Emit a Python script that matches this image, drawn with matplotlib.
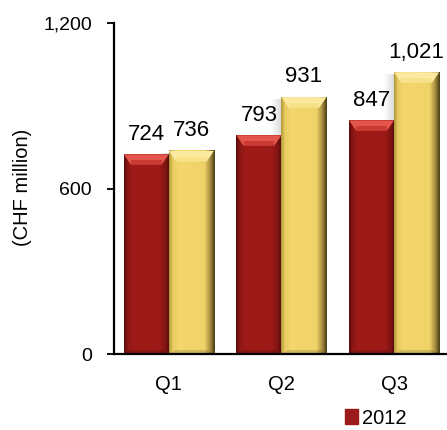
import numpy as np
import matplotlib
matplotlib.use('Agg')
import matplotlib.pyplot as plt
from matplotlib.colors import LinearSegmentedColormap
from matplotlib.patches import Patch

quarters = ['Q1', 'Q2', 'Q3']
years = ['2012', '2013']
values_2012 = [724, 793, 847]
values_2013 = [736, 931, 1021]

plt.rcParams['font.family'] = ['Liberation Sans', 'DejaVu Sans']

# side-to-side shading for the bevelled bars
red_cmap = LinearSegmentedColormap.from_list('red', [
	(0.0, '#5e0c0b'), (0.08, '#8c1714'), (0.2, '#a01b18'),
	(0.8, '#9c1a17'), (0.93, '#7a1411'), (1.0, '#4a0908')])
yellow_cmap = LinearSegmentedColormap.from_list('yellow', [
	(0.0, '#b59a3c'), (0.08, '#e8cc60'), (0.2, '#f3d76c'),
	(0.78, '#efd368'), (0.9, '#a89040'), (1.0, '#4d4016')])
top_colors = {'2012': ('#e4564c', '#b82a24'), '2013': ('#fbe9a0', '#f5dc7a')}

fig = plt.figure(figsize=(4.47, 4.30), dpi=100)
ax = fig.add_axes([0.255, 0.1767, 0.745, 0.7698])

width = 0.4
x = np.arange(len(quarters))
grad = np.linspace(0, 1, 64).reshape(1, -1)


def draw_bar(xc, h, cmap, tops):
	x0, x1 = xc - width / 2, xc + width / 2
	ax.imshow(grad, cmap=cmap, extent=[x0, x1, 0, h], aspect='auto', zorder=2)
	inset = width * 0.16
	bev = 38
	ax.fill([x0, x1, x1 - inset, x0 + inset], [h, h, h - bev, h - bev],
		color=tops[0], zorder=3, lw=0)
	ax.fill([x0 + inset, x1 - inset, x1 - inset, x0 + inset],
		[h - bev * 0.55, h - bev * 0.55, h - bev, h - bev],
		color=tops[1], zorder=3, lw=0, alpha=0.6)
	ax.fill([x0, x1, x1 - inset, x0 + inset], [0, 0, 14, 14],
		color='black', alpha=0.15, zorder=3, lw=0)


for i in range(len(quarters)):
	# soft shadow to the left of the 2013 bar
	sx1 = x[i]
	sh = np.linspace(0, 1, 32).reshape(1, -1)
	ax.imshow(sh, cmap=LinearSegmentedColormap.from_list('sh', ['#ffffff', '#c8c8c8']),
		extent=[sx1 - 0.09, sx1, values_2012[i], values_2013[i] - 10], aspect='auto',
		zorder=1.5, alpha=0.7)
	draw_bar(x[i] - width / 2, values_2012[i], red_cmap, top_colors['2012'])
	draw_bar(x[i] + width / 2, values_2013[i], yellow_cmap, top_colors['2013'])
	for xc, v in [(x[i] - width / 2, values_2012[i]), (x[i] + width / 2, values_2013[i])]:
		ax.annotate(f'{v:,}', (xc, v), xytext=(0, 7), textcoords='offset points',
			ha='center', va='bottom', fontsize=16, zorder=5)

ax.set_xlim(-0.487, 2.47)
ax.set_ylim(0, 1200)
ax.set_yticks([0, 600, 1200])
ax.set_yticklabels(['0', '600', '1,200'], fontsize=14)
ax.set_xticks(x)
ax.set_xticklabels(quarters, fontsize=14.5)
ax.tick_params(axis='x', length=0, pad=15)
ax.tick_params(axis='y', length=5, width=1.3, pad=11)
for s in ['top', 'right']:
	ax.spines[s].set_visible(False)
for s in ['left', 'bottom']:
	ax.spines[s].set_linewidth(1.6)

fig.text(23 / 447, 1 - 187 / 430, '(CHF million)', rotation=90, ha='center', va='center',
	fontsize=14.5)

ax.legend(handles=[Patch(color='#9c1a17', label=years[0])], loc='center left',
	bbox_to_anchor=(345 / 447, 12 / 430), bbox_transform=fig.transFigure,
	frameon=False, fontsize=14.5, handlelength=0.65, handleheight=0.7,
	handletextpad=0.2, borderaxespad=0, borderpad=0)

fig.savefig('out.png', dpi=100)
